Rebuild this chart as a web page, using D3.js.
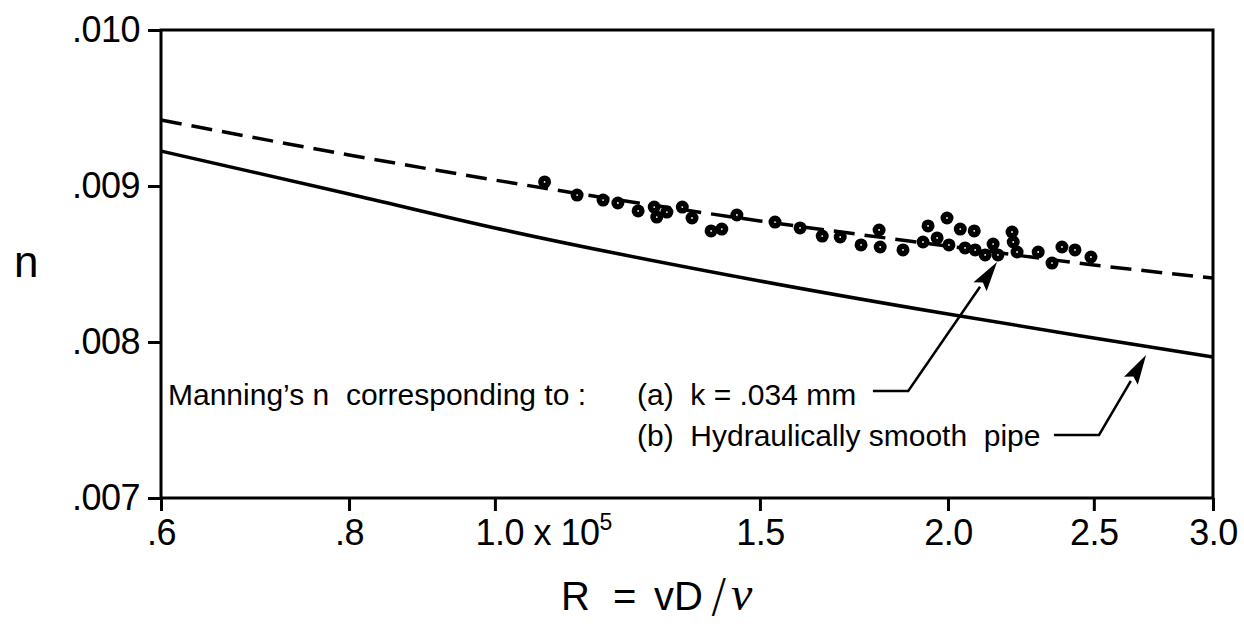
<!DOCTYPE html>
<html><head><meta charset="utf-8">
<script src="https://cdn.jsdelivr.net/npm/d3@7"></script>
<style>body{margin:0;background:#fff}svg{display:block}</style>
</head><body>
<svg id="c" width="1244" height="627"></svg>
<script>
// ---- data ----
const xTicks = [0.6, 0.8, 1.0, 1.5, 2.0, 2.5, 3.0];
const xTickLabels = [".6", ".8", "1.0", "1.5", "2.0", "2.5", "3.0"];
const yTicks = [0.007, 0.008, 0.009, 0.010];
const yTickLabels = [".007", ".008", ".009", ".010"];

// curve (a): k = .034 mm (dashed); curve (b): hydraulically smooth (solid)
const curveR = [0.6, 0.8, 1.0, 1.5, 2.0, 2.5, 3.0];
const nRough = [0.009423, 0.009199, 0.009038, 0.008776, 0.008615, 0.008494, 0.008410];
const nSmooth = [0.009224, 0.008949, 0.008731, 0.008391, 0.008179, 0.008026, 0.007904];

// observed points (R in units of 1e5)
const obsR = [1.079, 1.134, 1.180, 1.207, 1.245, 1.276, 1.281, 1.301, 1.332, 1.352,
  1.392, 1.415, 1.448, 1.535, 1.595, 1.650, 1.696, 1.751, 1.800, 1.803,
  1.867, 1.925, 1.940, 1.967, 1.997, 2.003, 2.038, 2.053, 2.082, 2.085,
  2.117, 2.143, 2.159, 2.206, 2.210, 2.223, 2.296, 2.345, 2.381, 2.429, 2.489];
const obsN = [0.009026, 0.008942, 0.008910, 0.008891, 0.008840, 0.008865, 0.008801, 0.008833, 0.008865, 0.008795,
  0.008712, 0.008724, 0.008814, 0.008769, 0.008731, 0.008679, 0.008673, 0.008622, 0.008718, 0.008609,
  0.008590, 0.008641, 0.008744, 0.008667, 0.008795, 0.008622, 0.008724, 0.008603, 0.008712, 0.008590,
  0.008558, 0.008628, 0.008558, 0.008705, 0.008641, 0.008577, 0.008577, 0.008506, 0.008609, 0.008590, 0.008545];

// annotation leader lines (data units)
const arrowAR = [1.783, 1.882, 2.156];
const arrowAN = [0.007686, 0.007686, 0.008513];
const arrowBR = [2.352, 2.520, 2.708];
const arrowBN = [0.007404, 0.007404, 0.007917];

// ---- drawing ----
const svg = d3.select("#c");
const FONT = "'Liberation Sans', Arial, Helvetica, sans-serif";
const x = d3.scaleLog().domain([0.6, 3.0]).range([161, 1213]);
const y = d3.scaleLinear().domain([0.007, 0.010]).range([498, 30]);

// frame
svg.append("rect").attr("x", x(0.6)).attr("y", y(0.010))
  .attr("width", x(3.0) - x(0.6)).attr("height", y(0.007) - y(0.010))
  .attr("fill", "none").attr("stroke", "#000").attr("stroke-width", 3);

// y axis
const yAxis = d3.axisLeft(y).tickValues(yTicks).tickSize(13).tickPadding(8)
  .tickFormat((d, i) => yTickLabels[i]);
const gy = svg.append("g").attr("transform", `translate(${x(0.6)},0)`).call(yAxis);
gy.select(".domain").remove();
gy.selectAll(".tick line").attr("stroke", "#000").attr("stroke-width", 3);
gy.selectAll(".tick text").attr("font-family", FONT).attr("font-size", 36)
  .attr("fill", "#000").attr("letter-spacing", -0.5);

// x axis
const xAxis = d3.axisBottom(x).tickValues(xTicks).tickSize(13).tickPadding(8)
  .tickFormat((d, i) => xTickLabels[i]);
const gx = svg.append("g").attr("transform", `translate(0,${y(0.007)})`).call(xAxis);
gx.select(".domain").remove();
gx.selectAll(".tick line").attr("stroke", "#000").attr("stroke-width", 3);
gx.selectAll(".tick text").attr("font-family", FONT).attr("font-size", 36)
  .attr("fill", "#000").attr("letter-spacing", -0.5);
// "1.0 x 10^5"
gx.selectAll(".tick text").filter((d) => d === 1.0).each(function () {
  const t = d3.select(this);
  t.text(null).attr("text-anchor", "start").attr("x", -20);
  t.append("tspan").text("1.0 x 10");
  t.append("tspan").text("5").attr("font-size", 23).attr("dy", -15);
});

// curves
const line = d3.line().x((d) => x(d[0])).y((d) => y(d[1])).curve(d3.curveMonotoneX);
svg.append("path").datum(curveR.map((r, i) => [r, nRough[i]]))
  .attr("d", line).attr("fill", "none").attr("stroke", "#000")
  .attr("stroke-width", 3.5).attr("stroke-dasharray", "21 10");
svg.append("path").datum(curveR.map((r, i) => [r, nSmooth[i]]))
  .attr("d", line).attr("fill", "none").attr("stroke", "#000").attr("stroke-width", 3.5);

// points
const pts = obsR.map((r, i) => [r, obsN[i]]);
svg.append("g").selectAll("circle").data(pts).join("circle")
  .attr("cx", (d) => x(d[0])).attr("cy", (d) => y(d[1])).attr("r", 6.5)
  .attr("fill", "#000");
svg.append("g").selectAll("circle").data(pts).join("circle")
  .attr("cx", (d) => x(d[0])).attr("cy", (d) => y(d[1])).attr("r", 0.9)
  .attr("fill", "#fff");

// arrows
function arrow(rs, ns) {
  const p = rs.map((r, i) => [x(r), y(ns[i])]);
  const a = p[p.length - 2], b = p[p.length - 1];
  const ang = Math.atan2(b[1] - a[1], b[0] - a[0]);
  const L = 30, W = 8;
  const bx = b[0] - L * Math.cos(ang), by = b[1] - L * Math.sin(ang);
  const pts2 = p.slice(0, -1).concat([[bx, by]]);
  svg.append("path").attr("d", d3.line()(pts2)).attr("fill", "none")
    .attr("stroke", "#000").attr("stroke-width", 2.5);
  const nx = -Math.sin(ang), ny = Math.cos(ang);
  svg.append("path").attr("d", d3.line()([
    [b[0], b[1]], [bx + nx * W, by + ny * W], [bx + 5 * Math.cos(ang), by + 5 * Math.sin(ang)], [bx - nx * W, by - ny * W]
  ]) + "Z").attr("fill", "#000");
}
arrow(arrowAR, arrowAN);
arrow(arrowBR, arrowBN);

// annotation text
const ann = svg.append("g").attr("font-family", FONT).attr("font-size", 30).attr("fill", "#000");
ann.append("text").attr("x", 168).attr("y", 405).attr("xml:space", "preserve")
  .text("Manning\u2019s n  corresponding to :");
ann.append("text").attr("x", 637).attr("y", 405).attr("xml:space", "preserve")
  .text("(a)  k = .034 mm");
ann.append("text").attr("x", 637).attr("y", 446).attr("xml:space", "preserve")
  .text("(b)  Hydraulically smooth  pipe");

// axis titles
svg.append("text").attr("x", 14).attr("y", 277).attr("font-family", FONT)
  .attr("font-size", 44).text("n");
const tg = svg.append("g").attr("font-family", FONT).attr("fill", "#000");
tg.append("text").attr("x", 561).attr("y", 610).attr("font-size", 40).text("R");
tg.append("text").attr("x", 613).attr("y", 610).attr("font-size", 40).text("=");
tg.append("text").attr("x", 654).attr("y", 610).attr("font-size", 40).text("vD");
tg.append("text").attr("x", 711).attr("y", 612).attr("font-size", 46)
  .attr("font-family", "'DejaVu Sans', sans-serif").attr("font-weight", 200).text("/");
tg.append("text").attr("x", 731).attr("y", 610).attr("font-size", 48)
  .attr("font-family", "'Liberation Serif', 'DejaVu Serif', serif")
  .attr("font-style", "italic").text("\u03bd");
</script>
</body></html>
